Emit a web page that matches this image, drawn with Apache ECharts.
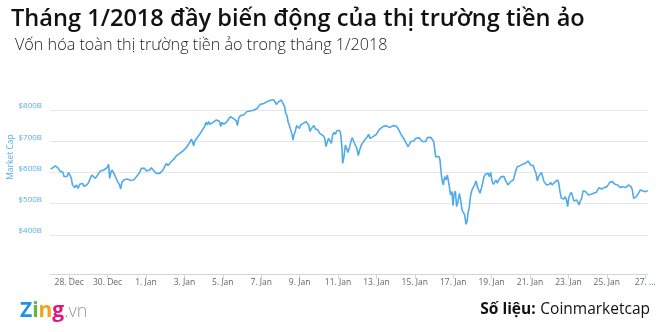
<!DOCTYPE html>
<html>
<head>
<meta charset="utf-8">
<script src="https://cdn.jsdelivr.net/npm/echarts@6/dist/echarts.min.js"></script>
<style>
html,body{margin:0;padding:0;background:#fff;}
#chart{width:660px;height:332px;}
</style>
</head>
<body>
<div id="chart"></div>
<script>
// Hours from 28 Dec 2017 00:00 (UTC)
const hours = [
-23.2,-20.3,-17.3,-14,-11.9,-9.8,-7.8,-6.5,-4.8,-2.8,
-0.7,1,2.7,3.9,5.6,6.8,8.9,11,13.1,15.2,
16.8,18.5,20.2,22.7,24.3,26.4,28.5,30.6,32.7,34.8,
36.8,38.9,41,43.1,45.2,47.3,49.3,50.6,51.8,53.5,
55.2,56.8,58.9,61,63.1,64.3,66,68.1,70.2,72.3,
74.3,76.4,78.5,80.6,82.7,84.3,86,88.1,90.2,92.3,
94.3,96.4,98.5,100.6,102.7,104.8,106.8,108.9,111,113.1,
115.2,117.3,119.3,121.4,123.5,125.6,127.7,129.8,131.8,133.9,
136,138.1,140.2,142.3,144.3,146.4,148.5,150.6,152.7,153.9,
155.6,156.8,158.9,161,163.1,165.2,167.3,169.3,171,172.7,
174.3,176,177.7,179.8,181.8,183.9,186,188.1,189.3,191,
193.1,195.2,197.3,199.3,201.4,203.5,205.2,206.8,208.9,210.2,
211.8,213.9,216,218.1,220.2,222.3,224.3,226.4,228.5,230.6,
232.7,234.8,236.8,238.9,241,243.1,245.2,247.3,249.3,251.4,
253.5,255.6,256.8,258.9,261,263.1,265.2,267.3,269.3,270.6,
272.3,273.5,275.2,276.8,278.5,279.8,281,282.7,284.3,286,
287.7,289.3,291,292.7,294.3,296,297.7,299.3,301,302.7,
304.3,306,307.7,309.3,311,313.1,315.2,317.3,319.3,321,
322.7,324.3,326,327.7,329.3,331,332.7,334.3,336,337.7,
339.3,341,341.8,343.5,345.2,346.8,
348.5,350.6,352.7,353.9,355.6,357.7,359.8,361.4,363.1,365.2,
367.3,369.3,371,372.7,374.3,376,377.7,379.8,381.8,383.9,
386,388.1,390.2,392.3,394.3,396.4,398.5,400.6,402.7,404.8,
406.8,408.9,411,413.1,415.2,417.3,419.3,421.4,423.5,425.2,
426.8,428.9,431,433.1,435.2,437.3,439.3,441.4,443.5,445.6,
447.7,449.8,451.8,453.9,455.6,456.8,458.1,460.2,462.3,463.5,
465.2,466.4,467.7,469.3,471,472.7,474.3,475.6,476.8,478.5,
479.8,481,482.7,484.3,486,487.7,489.3,491,492.7,494.3,
496,497.3,498.5,500.2,501.8,503.5,505.2,506.8,508.5,510.2,
511.8,513.5,515.2,516.8,518.5,520.2,521.8,523.5,525.2,526.8,
528.5,530.2,531.8,533.5,535.2,536.8,538.5,540.2,541.8,543.5,
545.2,546.8,548.5,550.2,551.8,553.5,555.2,556.8,558.5,560.2,
561.8,563.5,565.2,566.8,568.5,570.2,571.8,573.5,575.2,576.8,
578.5,580.2,581.8,583.5,585.2,586.8,588.5,590.2,591.8,593.5,
595.2,596.8,598.5,600.2,601.8,603.5,605.2,606.8,608.5,610.2,
611.8,613.5,615.2,616.8,618.5,620.2,621.8,623.1,624.3,626,
627.7,629.3,631,632.7,634.3,636,637.3,638.9,640.6,642.3,
643.9,645.6,647.3,648.9,650.6,652.3,653.9,655.6,657.3,658.9,
660.6,662.3,663.9,665.6,667.3,668.9,670.6,672.3,673.9,675.6,
677.3,678.9,680.6,682.3,683.9,685.6,687.3,688.9,690.6,692.3,
693.9,695.6,697.3,698.9,700.6,702.3,703.9,705.6,707.3,708.9,
710.6,712.3,713.9,715.6,717.3,718.9,720.6,722.3,723.5
];

// Total market cap, billions USD
const capB = [
611,615.5,621,615,605,608,600.5,587,592,587,
600,598,581,562,565,551.5,560,549,562,557,
565,555,558,562,568.5,581,592,587,581,589,
594,605,611,608,613,615,626,581,597,608,
611,592,594,568.5,560,547,568.5,576,573,579,
573,575,571,576,573,587,592,600,613,619,
613,605,611,608,615,608,607,597,594,597,
600,608,619,629,622,624,635,640,645,653,
656,661,664.5,669,675,679.5,688,695.5,707,699,
685,699,707,715,722,731,736,747,760.5,752,
763,754,750,760.5,765,768,771,763,747,760.5,
754,757,763,768,778.5,782,773,771,765,750,
773,782,786,784,789,795,792.5,797,800,799,
803,805,810.7,818,816,821,824.5,826.7,828.8,831,
832,833,826.7,818,824.5,826.7,832,821,810.7,789,
782,763,750,747,722,704,720,733,750,747,
741,752,747,757,754,763,765,752,731,741,
747,750,739,743.5,736,725,728.5,718,711.5,682.7,
699,709,707,693,720,728.5,722,733,728.5,735,
725,677,629,650.7,688,693,
664,682.7,704,711.5,699,693,675,654,672,688,
696.5,704,699,714.7,722,709,704,714.7,711.5,722,
731,739,741,747,743.5,750,752,743.5,747.7,750,
745.6,747.7,741,731,720,714.7,704,693,682.7,690,
699,693,701,709,704,711.5,707,699,704,699,
711.5,714.7,712.5,707,699,677.3,650.7,652.8,650.7,640,
592,570.7,560,586.7,576,592,568.5,565.3,528,538.7,
494,528,540.8,490.7,506.7,533.3,512,480,485.3,464,
434,442.7,469.3,490.7,528,544,540.8,560,572.8,554.7,
544,533.3,549.3,565.3,586.7,594,590,597.3,586.7,600.5,
572.8,562,568.5,576,565.3,576,581.3,586.7,592,586.7,
576,568.5,560,565.3,570.7,568.5,576,581.3,608,618.7,
615.5,621.9,618.7,626,622,629.3,634.7,636.8,632.5,624,
618.7,622,608,597.3,572.8,586.7,592,600.5,586.7,570.7,
565.3,560,554.7,562,568.5,560,565.3,568.5,572.8,576,
568.5,538.7,517.3,522.7,515.2,522.7,508.8,490.7,517.3,530,
536.5,522.7,508.8,506.7,512,504.5,496,508.8,517.3,540.8,
544,538.7,544,528,522.7,530,525.9,533.3,538.7,536.5,
544,551.5,554.7,547.2,544,551.5,549.3,554.7,560,568.5,
572.8,570.7,568.5,562,557.9,560,554.7,551.5,547.2,554.7,
557.9,551.5,554.7,560,562,554.7,544,517.3,515.2,522.7,
528,536.5,544,547.2,540.8,544,538.7,544,541.9
];

// Tick positions (hours from 28 Dec) and y tick values
const xTickHours = [0,48,96,144,192,240,288,336,384,432,480,528,576,624,672,720];
const yTickValues = [400,500,600,700,800];
const monthNames = ['Jan','Feb','Mar','Apr','May','Jun','Jul','Aug','Sep','Oct','Nov','Dec'];
const baseTime = Date.UTC(2017, 11, 28);

const titleText = 'Tháng 1/2018 đầy biến động của thị trường tiền ảo';
const subtitleText = 'Vốn hóa toàn thị trường tiền ảo trong tháng 1/2018';
const sourceLabel = 'Số liệu:';
const sourceName = 'Coinmarketcap';
const yAxisTitle = 'Market Cap';

const seriesData = hours.map((h, i) => [h, capB[i]]);

const chart = echarts.init(document.getElementById('chart'), null, {renderer: 'canvas'});
const FONT = 'Open Sans';
chart.setOption({
  animation: false,
  backgroundColor: '#ffffff',
  textStyle: {fontFamily: FONT},
  title: [
    {text: titleText, left: 6, top: 2,
     textStyle: {fontFamily: FONT, fontSize: 23.6, fontWeight: 600, color: '#111111'}},
    {text: subtitleText, left: 10, top: 32,
     textStyle: {fontFamily: FONT, fontSize: 16.2, fontWeight: 300, color: '#222222'}},
    {text: '{z|Z}{i|i}{n|n}{g|g}{v|.vn}', left: 15, top: 296,
     textStyle: {rich: {
       z: {fontFamily: FONT, fontSize: 21, fontWeight: 'bold', color: '#1f95e0'},
       i: {fontFamily: FONT, fontSize: 21, fontWeight: 'bold', color: '#5cb946'},
       n: {fontFamily: FONT, fontSize: 21, fontWeight: 'bold', color: '#f4a21a'},
       g: {fontFamily: FONT, fontSize: 21, fontWeight: 'bold', color: '#e5137a'},
       v: {fontFamily: FONT, fontSize: 18, fontWeight: 300, color: '#9a9a9a'}
     }}},
    {text: '{b|' + sourceLabel + '} {r|' + sourceName + '}', right: 5, top: 296,
     textStyle: {rich: {
       b: {fontFamily: FONT, fontSize: 15.5, fontWeight: 'bold', color: '#111111'},
       r: {fontFamily: FONT, fontSize: 15.5, fontWeight: 'normal', color: '#111111'}
     }}}
  ],
  graphic: [
    {type: 'text', x: 11, y: 157, rotation: Math.PI / 2,
     style: {text: yAxisTitle, fill: '#5aaee8', font: '8.5px "Open Sans"', align: 'center', verticalAlign: 'middle'}}
  ],
  grid: {left: 50, right: 12, top: 95, bottom: 58, containLabel: false},
  xAxis: {
    type: 'value',
    min: -24,
    max: 723.5,
    axisLine: {show: true, lineStyle: {color: '#ccd6eb', width: 1}},
    axisTick: {show: true, customValues: xTickHours, length: 5, lineStyle: {color: '#ccd6eb'}},
    splitLine: {show: false},
    axisLabel: {
      customValues: xTickHours,
      color: '#666666', fontSize: 8.5, fontFamily: FONT, margin: 4,
      formatter: function (v) {
        const d = new Date(baseTime + v * 3600000);
        if (v >= 720) return d.getUTCDate() + '. ...';
        return d.getUTCDate() + '. ' + monthNames[d.getUTCMonth()];
      }
    }
  },
  yAxis: {
    type: 'value',
    min: 275,
    max: 848,
    axisLine: {show: false},
    axisTick: {show: false, customValues: yTickValues},
    splitLine: {show: true, lineStyle: {color: '#e6e6e6', width: 1}},
    axisLabel: {
      customValues: yTickValues,
      color: '#5aaee8', fontSize: 8, fontFamily: FONT, margin: 8,
      verticalAlign: 'bottom',
      formatter: function (v) { return '$' + v + 'B'; }
    }
  },
  series: [{
    type: 'line',
    data: seriesData,
    showSymbol: false,
    smooth: false,
    lineStyle: {color: '#4fabe9', width: 1.6},
    itemStyle: {color: '#4fabe9'}
  }]
});
</script>
</body>
</html>
